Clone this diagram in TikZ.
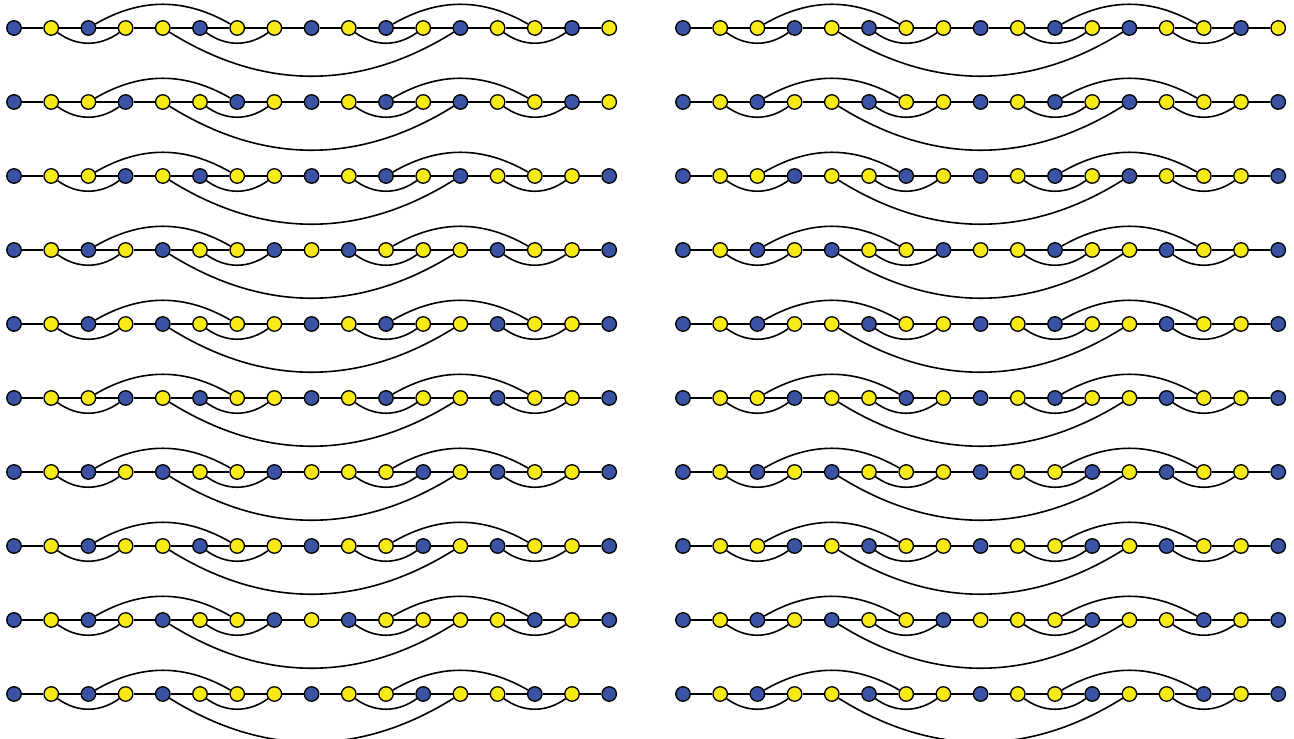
\documentclass[tikz,border=0pt]{standalone}
\usetikzlibrary{backgrounds}
\definecolor{nblue}{HTML}{3A53A4}
\definecolor{nyellow}{HTML}{F7EA16}
\tikzset{
  vtx/.style={circle, draw=black, line width=1.3pt, minimum size=14.5pt, inner sep=0pt},
  vb/.style={vtx, fill=nblue},
  vy/.style={vtx, fill=nyellow},
  edge/.style={line width=1.6pt, draw=black},
}
\expandafter\def\csname patLa\endcsname{b,y,b,y,y,b,y,y,b,y,b,y,b,y,y,b,y}
\expandafter\def\csname patLb\endcsname{b,y,y,b,y,y,b,y,b,y,b,y,b,y,y,b,y}
\expandafter\def\csname patLc\endcsname{b,y,y,b,y,b,y,y,b,y,b,y,b,y,y,y,b}
\expandafter\def\csname patLd\endcsname{b,y,b,y,b,y,y,b,y,b,y,y,y,b,y,y,b}
\expandafter\def\csname patLe\endcsname{b,y,b,y,b,y,y,y,b,y,b,y,y,b,y,y,b}
\expandafter\def\csname patLf\endcsname{b,y,y,b,y,b,y,y,b,y,b,y,y,b,y,y,b}
\expandafter\def\csname patLg\endcsname{b,y,b,y,b,y,y,b,y,y,y,b,y,b,y,y,b}
\expandafter\def\csname patLh\endcsname{b,y,b,y,y,b,y,y,b,y,y,b,y,b,y,y,b}
\expandafter\def\csname patLi\endcsname{b,y,b,y,b,y,y,b,y,b,y,y,y,y,b,y,b}
\expandafter\def\csname patLj\endcsname{b,y,b,y,b,y,y,y,b,y,y,b,y,y,b,y,b}
\expandafter\def\csname patRa\endcsname{b,y,y,b,y,b,y,y,b,y,b,y,b,y,y,b,y}
\expandafter\def\csname patRb\endcsname{b,y,b,y,y,b,y,y,b,y,b,y,b,y,y,y,b}
\expandafter\def\csname patRc\endcsname{b,y,y,b,y,y,b,y,b,y,b,y,b,y,y,y,b}
\expandafter\def\csname patRd\endcsname{b,y,b,y,b,y,y,b,y,y,b,y,y,b,y,y,b}
\expandafter\def\csname patRe\endcsname{b,y,b,y,y,b,y,y,b,y,b,y,y,b,y,y,b}
\expandafter\def\csname patRf\endcsname{b,y,y,b,y,y,b,y,b,y,b,y,y,b,y,y,b}
\expandafter\def\csname patRg\endcsname{b,y,b,y,b,y,y,y,b,y,y,b,y,b,y,y,b}
\expandafter\def\csname patRh\endcsname{b,y,y,b,y,b,y,y,b,y,y,b,y,b,y,y,b}
\expandafter\def\csname patRi\endcsname{b,y,b,y,b,y,y,b,y,y,y,b,y,y,b,y,b}
\expandafter\def\csname patRj\endcsname{b,y,b,y,y,b,y,y,b,y,y,b,y,y,b,y,b}
\begin{document}
\begin{tikzpicture}[x=1pt,y=1pt]
\useasboundingbox (0,0) rectangle (1294,739);
\foreach \g/\ox/\oy in {
  La/14/711, Lb/14/637, Lc/14/563, Ld/14/489, Le/14/415,
  Lf/14/341, Lg/14/267, Lh/14/193, Li/14/119, Lj/14/45,
  Ra/683/711, Rb/683/637, Rc/683/563, Rd/683/489, Re/683/415,
  Rf/683/341, Rg/683/267, Rh/683/193, Ri/683/119, Rj/683/45
}{
  \expandafter\let\expandafter\curpat\csname pat\g\endcsname
  \foreach \c [count=\i from 0] in \curpat {
    \node[v\c] (\g-\i) at (\ox+37.2*\i, \oy) {};
  }
  \begin{scope}[on background layer]
    \foreach \i [count=\j from 1] in {0,...,15} {
      \draw[edge] (\g-\i) -- (\g-\j);
    }
    \draw[edge] (\g-1) to[bend right=36] (\g-3);
    \draw[edge] (\g-5) to[bend right=36] (\g-7);
    \draw[edge] (\g-9) to[bend right=36] (\g-11);
    \draw[edge] (\g-13) to[bend right=36] (\g-15);
    \draw[edge] (\g-2) to[bend left=30] (\g-6);
    \draw[edge] (\g-10) to[bend left=30] (\g-14);
    \draw[edge] (\g-4) to[bend right=32] (\g-12);
  \end{scope}
}
\end{tikzpicture}
\end{document}
